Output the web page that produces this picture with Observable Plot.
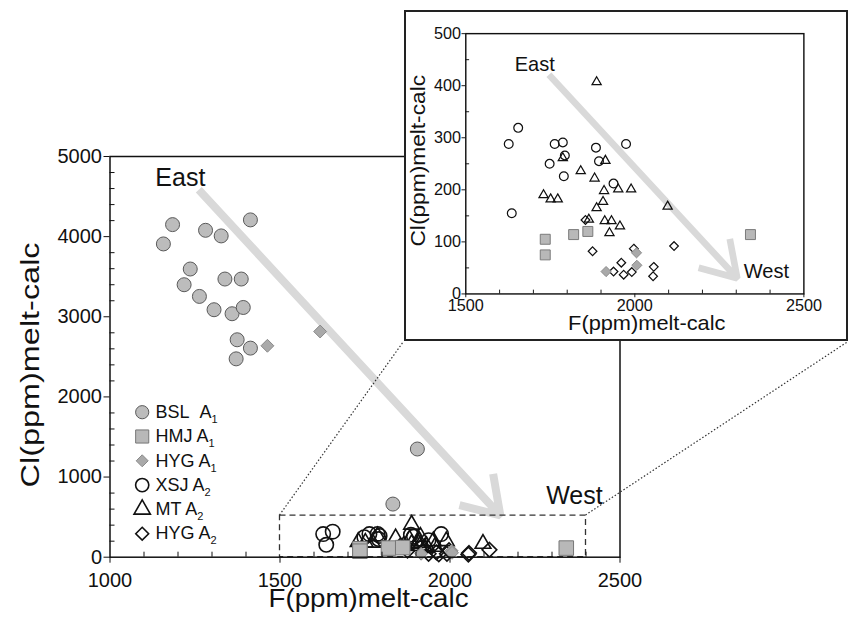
<!DOCTYPE html>
<html><head><meta charset="utf-8">
<script src="https://cdn.jsdelivr.net/npm/d3@7"></script>
<script src="https://cdn.jsdelivr.net/npm/@observablehq/plot@0.6"></script>
<style>
html,body{margin:0;padding:0;background:#fff;overflow:hidden;}
#wrap{position:relative;width:848px;height:626px;overflow:hidden;font-family:"Liberation Sans",Arial,sans-serif;}
#main{position:absolute;left:0;top:0;}
#conn{position:absolute;left:0;top:0;}
#inset{position:absolute;left:403.5px;top:9.5px;border:2px solid #222;background:#fff;}
#inset svg,#main svg{display:block;}
</style></head><body>
<div id="wrap"><div id="main"></div><svg id="conn" width="848" height="626"></svg><div id="inset"></div></div>
<script>
// ---------- data ----------
const bslF  = [1184,1157,1281,1327,1413,1236,1218,1338,1386,1263,1306,1359,1392,1374,1413,1371,1904,1832];
const bslCl = [4150,3909,4079,4009,4209,3596,3400,3471,3471,3254,3088,3038,3116,2713,2609,2475,1350,663];
const hmjF  = [1735,1735,1819,1861,2342];
const hmjCl = [105,75,114,120,114];
const hygA1F  = [1463,1618,1915,2005,2006];
const hygA1Cl = [2638,2816,43,79,55];
const xsjF  = [1655,1627,1763,1787,1793,1748,1790,1885,1894,1974,1937,1636];
const xsjCl = [319,288,288,291,266,250,226,281,255,288,212,155];
const mtF  = [1787,1913,1840,1881,1730,1751,1772,1909,1951,1989,1906,1887,2097,1864,1911,1931,1956,1925,1887];
const mtCl = [261,256,236,222,190,182,182,198,201,201,177,165,168,143,140,140,130,117,407];
const hygA2F  = [1854,1875,1960,1937,1967,1991,1997,2056,2054,2116];
const hygA2Cl = [142,82,60,43,37,42,87,52,34,92];

const legendLabels = ["BSL\u00a0\u00a0A", "HMJ A", "HYG A", "XSJ A", "MT A", "HYG A"];
const legendSubs   = ["1", "1", "1", "2", "2", "2"];

const xTicksMain = [1000, 1500, 2000, 2500];
const yTicksMain = [0, 1000, 2000, 3000, 4000, 5000];
const xTicksInset = [1500, 2000, 2500];
const yTicksInset = [0, 100, 200, 300, 400, 500];
const axisTitleX = "F(ppm)melt-calc";
const axisTitleY = "Cl(ppm)melt-calc";

// annotations (data space)
const mainArrow  = {x1: 1261, y1: 4584, x2: 2148, y2: 521};
const insetArrow = {x1: 1746, y1: 421, x2: 2303, y2: 30};
const zoomBox = {x1: 1500, x2: 2400, y1: 0, y2: 520};
const mainLabels  = [{t: "East", F: 1207, Cl: 4734}, {t: "West", F: 2366, Cl: 759}];
const insetLabels = [{t: "East", F: 1704, Cl: 441}, {t: "West", F: 2389, Cl: 43}];

// ---------- build ----------
const FONT = '"Liberation Sans", Arial, Helvetica, sans-serif';
const ink = "#111";
const rows = (F, Cl) => F.map((f, i) => ({F: f, Cl: Cl[i]}));
const range = (a, b, s) => d3.range(a, b + s / 2, s);

const series = [
  {data: rows(mtF, mtCl),       symbol: "triangle2", fill: "none",    stroke: ink,       sw: [1.6, 1.3], r: [7.5, 4.6], rl: 7.8},
  {data: rows(xsjF, xsjCl),     symbol: "circle",    fill: "none",    stroke: ink,       sw: [1.6, 1.3], r: [7.2, 4.6], rl: 6.6},
  {data: rows(hygA2F, hygA2Cl), symbol: "diamond2",  fill: "none",    stroke: ink,       sw: [1.6, 1.3], r: [6.6, 4.1], rl: 5.8},
  {data: rows(hmjF, hmjCl),     symbol: "square",    fill: "#b8b8b8", stroke: "#777",    sw: [1, 1],     r: [8.2, 5.9], rl: 7.4},
  {data: rows(bslF, bslCl),     symbol: "circle",    fill: "#bcbcbc", stroke: "#5a5a5a", sw: [1, 1],     r: [7, 5],     rl: 6.6},
  {data: rows(hygA1F, hygA1Cl), symbol: "diamond2",  fill: "#a9a9a9", stroke: "#8a8a8a", sw: [1, 1],     r: [5.8, 4.8], rl: 5.4}
];
// legend order: BSL, HMJ, HYG A1, XSJ, MT, HYG A2
const legendOrder = [4, 3, 5, 1, 0, 2];

function pointMarks(k, clip) {
  return series.map(s => Plot.dot(s.data, {
    x: "F", y: "Cl", symbol: () => s.symbol, r: s.r[k],
    fill: s.fill, stroke: s.stroke, strokeWidth: s.sw[k], clip
  }));
}

const mainMarks = [
  Plot.arrow([mainArrow], {x1: "x1", y1: "y1", x2: "x2", y2: "y2", stroke: "#d9d9d9", strokeWidth: 8,
    headLength: 7.9, headAngle: 66, strokeLinecap: "butt", strokeLinejoin: "miter"}),
  Plot.rect([zoomBox], {x1: "x1", x2: "x2", y1: "y1", y2: "y2", fill: "none", stroke: "#333",
    strokeWidth: 1.3, strokeDasharray: "6,4"}),
  ...pointMarks(0, false),
  Plot.frame({stroke: ink, strokeWidth: 1.5}),
  Plot.axisX({ticks: xTicksMain, tickSize: 6, tickPadding: 10, fontSize: 20, tickFormat: "d", label: null}),
  Plot.axisX({ticks: range(1000, 2500, 100).filter(v => v % 500), tickSize: 5, dy: -5, text: null, label: null}),
  Plot.axisY({ticks: yTicksMain, tickSize: 6, tickPadding: 2, fontSize: 20, tickFormat: "d", label: null}),
  Plot.axisY({ticks: range(0, 5000, 200).filter(v => v % 1000), tickSize: 5, dx: 5, text: null, label: null}),
  Plot.text(mainLabels, {x: "F", y: "Cl", text: "t", fontSize: 25, textAnchor: "middle", lineAnchor: "middle", fill: ink}),
  Plot.text([axisTitleX], {frameAnchor: "bottom", text: d => d, textAnchor: "start", dx: -96.5, dy: 50,
    lineAnchor: "bottom", fontSize: 25, fill: ink}),
  Plot.text([axisTitleY], {frameAnchor: "left", text: d => d, textAnchor: "start", rotate: -90, dx: -71.5, dy: 130.6,
    lineAnchor: "bottom", fontSize: 25, fill: ink})
];
legendOrder.forEach((si, i) => {
  const s = series[si];
  const dy = -145 + 24.3 * i;
  mainMarks.push(Plot.dot([0], {frameAnchor: "bottom-left", dx: 32.2, dy, symbol: () => s.symbol, r: s.rl,
    fill: s.fill, stroke: s.stroke, strokeWidth: s.sw[0]}));
  mainMarks.push(Plot.text([legendLabels[i]], {frameAnchor: "bottom-left", dx: 45.5, dy, text: d => d,
    textAnchor: "start", lineAnchor: "middle", fontSize: 18, fill: ink}));
});

const main = Plot.plot({
  width: 848, height: 626,
  marginLeft: 109.5, marginRight: 228.5, marginTop: 156, marginBottom: 69.3,
  x: {domain: [1000, 2500]}, y: {domain: [0, 5000]},
  style: {fontFamily: FONT, color: ink, background: "#fff"},
  marks: mainMarks
});
document.getElementById("main").appendChild(main);

const insetW = 462, insetH = 344;
const inset = Plot.plot({
  width: insetW, height: insetH,
  marginLeft: 62.2, marginRight: insetW - 416.8, marginTop: 22.2, marginBottom: insetH - 295.2,
  x: {domain: [1500, 2500]}, y: {domain: [0, 500]},
  style: {fontFamily: FONT, color: ink, background: "#fff"},
  marks: [
    Plot.arrow([insetArrow], {x1: "x1", y1: "y1", x2: "x2", y2: "y2", stroke: "#d9d9d9", strokeWidth: 7,
      headLength: 9, headAngle: 64, strokeLinecap: "butt", strokeLinejoin: "miter"}),
    ...pointMarks(1, true),
    Plot.frame({stroke: ink, strokeWidth: 1.5}),
    Plot.axisX({ticks: xTicksInset, tickSize: 4, tickPadding: 2, fontSize: 17, tickFormat: "d", label: null}),
    Plot.axisX({ticks: range(1500, 2500, 100).filter(v => v % 500), tickSize: 4, dy: -4, text: null, label: null}),
    Plot.axisY({ticks: yTicksInset, tickSize: 4, tickPadding: 1, fontSize: 17, tickFormat: "d", label: null}),
    Plot.axisY({ticks: range(50, 450, 100), tickSize: 4, dx: 4, text: null, label: null}),
    Plot.text(insetLabels, {x: "F", y: "Cl", text: "t", fontSize: 21, textAnchor: "middle", lineAnchor: "middle", fill: ink}),
    Plot.text([axisTitleX], {frameAnchor: "bottom", text: d => d, textAnchor: "start", dx: -70, dy: 37.8,
      lineAnchor: "bottom", fontSize: 21, fill: ink}),
    Plot.text([axisTitleY], {frameAnchor: "left", text: d => d, textAnchor: "start", rotate: -90, dx: -43.2, dy: 86.8,
      lineAnchor: "bottom", fontSize: 21, fill: ink})
  ]
});
document.getElementById("inset").appendChild(inset);

// stretch axis titles to the reference lengths
function stretch(svg, content, len) {
  d3.select(svg).selectAll("text").filter(function() { return this.textContent === content; })
    .attr("textLength", len).attr("lengthAdjust", "spacingAndGlyphs");
}
stretch(main, axisTitleX, 200); stretch(main, axisTitleY, 245);
stretch(inset, axisTitleX, 165); stretch(inset, axisTitleY, 180);

// subscripts in legend (text nodes in document order = legend row order)
d3.select(main).selectAll("text").filter(function() { return legendLabels.includes(this.textContent); })
  .each(function(_, i) {
    d3.select(this).append("tspan").attr("font-size", 11).attr("dy", 5).text(legendSubs[i]);
  });

// dotted connector lines from zoom box corners to inset box corners
const sx = main.scale("x"), sy = main.scale("y");
const wrapRect = document.getElementById("wrap").getBoundingClientRect();
const ir = document.getElementById("inset").getBoundingClientRect();
const conn = d3.select("#conn");
[[zoomBox.x1, ir.left - wrapRect.left], [zoomBox.x2, ir.right - wrapRect.left]].forEach(([fx, px]) => {
  conn.append("line")
    .attr("x1", sx.apply(fx)).attr("y1", sy.apply(zoomBox.y2))
    .attr("x2", px).attr("y2", ir.bottom - wrapRect.top)
    .attr("stroke", "#333").attr("stroke-width", 1.2).attr("stroke-dasharray", "1.5,2");
});
</script>
</body></html>
